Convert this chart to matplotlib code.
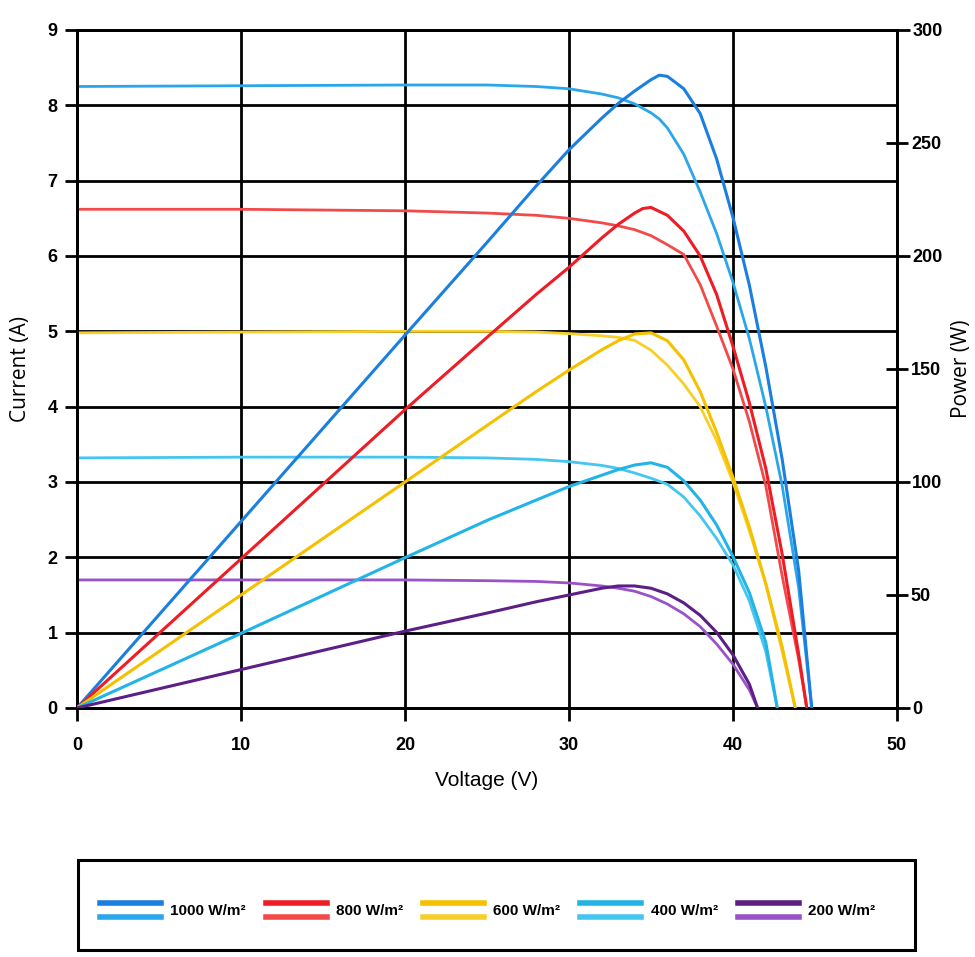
import matplotlib
matplotlib.use("Agg")
import matplotlib.pyplot as plt
from matplotlib.lines import Line2D
from matplotlib.legend_handler import HandlerBase
from matplotlib.patches import Rectangle
from matplotlib.ticker import FixedLocator, FixedFormatter

# ---------------- data ----------------
labels = ["1000 W/m²", "800 W/m²", "600 W/m²", "400 W/m²", "200 W/m²"]

v_1000 = [0, 10, 20, 25, 28, 30, 32, 33, 34, 35, 35.5, 36, 37, 38, 39, 40, 41, 42, 43, 44, 44.8]
i_1000 = [8.25, 8.26, 8.27, 8.27, 8.25, 8.22, 8.15, 8.10, 8.02, 7.90, 7.82, 7.70, 7.35, 6.85, 6.30, 5.65, 4.90, 4.00, 2.95, 1.60, 0]
p_1000 = [0, 82.5, 165, 206, 231, 247, 261, 267.5, 273, 278, 280, 279.5, 274, 263, 243, 217, 187, 151, 110, 61, 0]

v_800 = [0, 10, 20, 25, 28, 30, 32, 33, 34, 34.5, 35, 36, 37, 38, 39, 40, 41, 42, 43, 44, 44.5]
i_800 = [6.62, 6.62, 6.60, 6.57, 6.54, 6.50, 6.44, 6.40, 6.35, 6.31, 6.27, 6.15, 6.02, 5.62, 5.07, 4.50, 3.80, 2.95, 1.75, 0.65, 0]
p_800 = [0, 66, 132, 164, 183, 195, 208, 214, 219, 221, 221.5, 218, 211, 200, 183, 160, 135, 106, 68, 24, 0]

v_600 = [0, 10, 20, 25, 28, 30, 32, 33, 34, 35, 36, 37, 38, 39, 40, 41, 42, 43, 43.8]
i_600 = [4.98, 4.99, 5.00, 5.00, 4.99, 4.97, 4.94, 4.92, 4.88, 4.75, 4.55, 4.30, 4.00, 3.55, 3.00, 2.35, 1.65, 0.75, 0]
p_600 = [0, 50, 100, 125, 140, 149.5, 158.5, 162.5, 165.5, 166, 162.5, 154, 140, 122, 102, 80, 55, 27, 0]

v_400 = [0, 10, 20, 25, 28, 30, 32, 33, 34, 35, 36, 37, 38, 39, 40, 41, 42, 42.7]
i_400 = [3.32, 3.33, 3.33, 3.32, 3.30, 3.27, 3.22, 3.18, 3.12, 3.05, 2.97, 2.80, 2.55, 2.25, 1.90, 1.42, 0.75, 0]
p_400 = [0, 33, 66.5, 83, 92, 98, 103, 105.5, 107.5, 108.5, 106.5, 100.5, 92, 81, 67, 51, 29, 0]

v_200 = [0, 10, 20, 25, 28, 30, 32, 33, 34, 35, 36, 37, 38, 39, 40, 41, 41.5]
i_200 = [1.70, 1.70, 1.70, 1.69, 1.68, 1.66, 1.62, 1.59, 1.55, 1.48, 1.38, 1.25, 1.08, 0.85, 0.58, 0.24, 0]
p_200 = [0, 17, 34, 42, 47, 50, 53, 54, 54, 53, 50.5, 46.5, 41, 33.5, 23.5, 10.5, 0]

voltages = [v_1000, v_800, v_600, v_400, v_200]
currents = [i_1000, i_800, i_600, i_400, i_200]
powers = [p_1000, p_800, p_600, p_400, p_200]

# power-curve colour (darker) and current-curve colour (lighter)
p_colors = ["#1a7fe0", "#ee1c25", "#f5c000", "#22b4e6", "#5b1f86"]
i_colors = ["#2aa6ea", "#f24a4a", "#f8cf2a", "#44c6f0", "#9a52c8"]

x_ticks = [0, 10, 20, 30, 40, 50]
i_ticks = list(range(10))
p_major = [0, 100, 200, 300]
p_minor = [50, 150, 250]

# ---------------- figure ----------------
cond = ["Liberation Sans", "DejaVu Sans"]
wide = ["Open Sans", "DejaVu Sans"]
fig = plt.figure(figsize=(9.75, 9.57), dpi=100)
ax = fig.add_axes([77 / 975, 1 - 708 / 957, (897 - 77) / 975, (708 - 30) / 957])
ax2 = ax.twinx()

ax.set_xlim(0, 50)
ax.set_ylim(0, 9)
ax2.set_ylim(0, 300)

ax.set_xticks(x_ticks)
ax.set_yticks(i_ticks)
ax.grid(True, color="black", lw=2.0)
ax.set_axisbelow(True)
ax.tick_params(axis="both", length=9, width=2.0, color="black", direction="out")
ax.tick_params(axis="x", pad=12)
ax.tick_params(axis="y", pad=5)

for s in ["left", "bottom", "right", "top"]:
    for a in (ax, ax2):
        a.spines[s].set_color("black")
        a.spines[s].set_linewidth(2.0)

ax2.yaxis.set_major_locator(FixedLocator(p_major))
ax2.yaxis.set_minor_locator(FixedLocator(p_minor))
ax2.yaxis.set_minor_formatter(FixedFormatter([str(v) for v in p_minor]))
ax2.tick_params(axis="y", which="major", length=9, width=2.0, direction="out", pad=2)
ax2.tick_params(axis="y", which="minor", length=16, width=2.0, direction="inout", pad=2)

for lab in (ax.get_xticklabels() + ax.get_yticklabels()
            + ax2.get_yticklabels() + ax2.get_yticklabels(minor=True)):
    lab.set_fontfamily(cond)
    lab.set_fontweight("bold")
    lab.set_fontsize(13)

for v, i, p, pc, ic in zip(voltages, currents, powers, p_colors, i_colors):
    ax.plot(v, i, color=ic, lw=2.0, solid_capstyle="round", solid_joinstyle="round", zorder=3)
    ax2.plot(v, p, color=pc, lw=2.2, solid_capstyle="round", solid_joinstyle="round", zorder=3)

ax.set_xlabel("Voltage (V)", fontsize=15, family=cond, labelpad=12)
ax.set_ylabel("Current (A)", fontsize=15, family=wide, labelpad=12)
ax2.set_ylabel("Power (W)", fontsize=15, family=wide, labelpad=6)

# ---------------- legend ----------------
class PairHandle:
    def __init__(self, c_top, c_bottom):
        self.c_top = c_top
        self.c_bottom = c_bottom


class PairHandler(HandlerBase):
    def create_artists(self, legend, orig_handle, xdescent, ydescent,
                       width, height, fontsize, trans):
        x0 = -xdescent
        x1 = width - xdescent
        yt = -ydescent + height * 0.95
        yb = -ydescent + height * 0.05
        l1 = Line2D([x0, x1], [yt, yt], color=orig_handle.c_top, lw=4.0, transform=trans)
        l2 = Line2D([x0, x1], [yb, yb], color=orig_handle.c_bottom, lw=4.0, transform=trans)
        return [l1, l2]


handles = [PairHandle(pc, ic) for pc, ic in zip(p_colors, i_colors)]
fig.legend(handles, labels, handler_map={PairHandle: PairHandler()},
           loc="center", bbox_to_anchor=(0.500, 1 - 910 / 957), ncol=5,
           frameon=False, prop=dict(family=cond, size=11, weight="bold"),
           handlelength=4.0, handleheight=1.25, columnspacing=1.3, handletextpad=0.6)

fig.patches.append(Rectangle((78 / 975, 1 - 950 / 957), (915 - 78) / 975, (950 - 860) / 957,
                             transform=fig.transFigure, fill=False, lw=2.2, ec="black"))

fig.savefig("out.png", dpi=100, facecolor="white")
